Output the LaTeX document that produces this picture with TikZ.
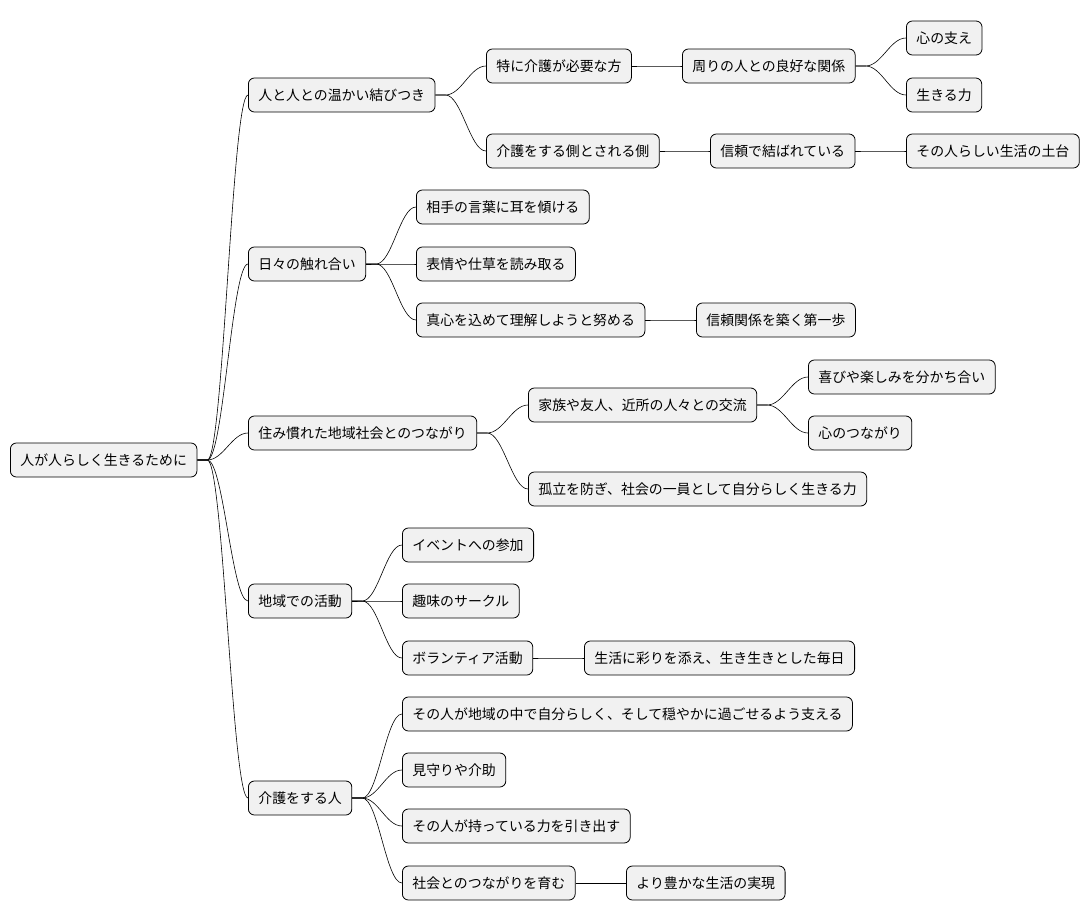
\documentclass[tikz,border=0pt]{standalone}
\usepackage{fontspec}
\setmainfont{Noto Sans CJK JP}
\usetikzlibrary{positioning}
\tikzset{
  box/.style={draw, rounded corners=6pt, fill={rgb,255:red,241;green,241;blue,241}, anchor=west,
    minimum height=34pt, inner xsep=10pt, font=\fontsize{13.9pt}{15pt}\selectfont, line width=0.8pt},
  link/.style={line width=0.6pt}
}
\begin{document}
\begin{tikzpicture}[x=1pt, y=-1pt]
\useasboundingbox (0,0) rectangle (1090,921);
\node[box] (root) at (10,460) {人が人らしく生きるために};
% level 1
\node[box] (a) at (248,95) {人と人との温かい結びつき};
\node[box] (b) at (248,264) {日々の触れ合い};
\node[box] (c) at (248,433) {住み慣れた地域社会とのつながり};
\node[box] (d) at (248,601) {地域での活動};
\node[box] (e) at (248,798) {介護をする人};
% level 2
\node[box] (a1) at (486,66) {特に介護が必要な方};
\node[box] (a2) at (486,151) {介護をする側とされる側};
\node[box] (b1) at (416,207) {相手の言葉に耳を傾ける};
\node[box] (b2) at (416,264) {表情や仕草を読み取る};
\node[box] (b3) at (416,320) {真心を込めて理解しようと努める};
\node[box] (c1) at (528,405) {家族や友人、近所の人々との交流};
\node[box] (c2) at (528,489) {孤立を防ぎ、社会の一員として自分らしく生きる力};
\node[box] (d1) at (402,545) {イベントへの参加};
\node[box] (d2) at (402,601) {趣味のサークル};
\node[box] (d3) at (402,658) {ボランティア活動};
\node[box] (e1) at (402,714) {その人が地域の中で自分らしく、そして穏やかに過ごせるよう支える};
\node[box] (e2) at (402,770) {見守りや介助};
\node[box] (e3) at (402,826) {その人が持っている力を引き出す};
\node[box] (e4) at (402,883) {社会とのつながりを育む};
% level 3
\node[box] (a11) at (682,66) {周りの人との良好な関係};
\node[box] (a21) at (710,151) {信頼で結ばれている};
\node[box] (b31) at (696,320) {信頼関係を築く第一歩};
\node[box] (c11) at (808,377) {喜びや楽しみを分かち合い};
\node[box] (c12) at (808,433) {心のつながり};
\node[box] (d31) at (584,658) {生活に彩りを添え、生き生きとした毎日};
\node[box] (e41) at (626,883) {より豊かな生活の実現};
% level 4
\node[box] (a111) at (906,38) {心の支え};
\node[box] (a112) at (906,95) {生きる力};
\node[box] (a211) at (906,151) {その人らしい生活の土台};
% links
\foreach \p/\c in {root/a, root/b, root/c, root/d, root/e,
  a/a1, a/a2, b/b1, b/b2, b/b3, c/c1, c/c2, d/d1, d/d2, d/d3,
  e/e1, e/e2, e/e3, e/e4, a1/a11, a2/a21, b3/b31, c1/c11, c1/c12,
  d3/d31, e4/e41, a11/a111, a11/a112, a21/a211}
  \draw[link] (\p.east) -- ++(10,0) .. controls +(16,0) and +(-16,0) .. (\c.west);
\end{tikzpicture}
\end{document}
